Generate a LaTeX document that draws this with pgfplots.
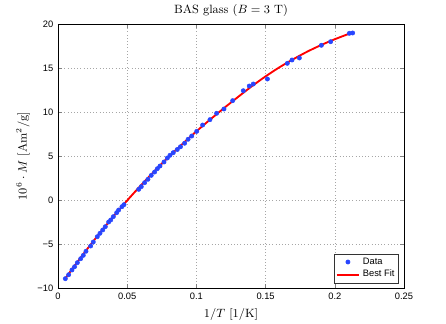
\documentclass[border=0pt]{standalone}
\usepackage{pgfplots}
\pgfplotsset{compat=1.18}
\usepackage{fontspec}
\newfontfamily\ticksf{Liberation Sans}
\definecolor{datablue}{RGB}{40,70,255}

\begin{document}
\begin{tikzpicture}
\useasboundingbox (-43.5pt,-27pt) rectangle (291pt,216pt);
\begin{axis}[
    at={(0,0)}, anchor=south west,
    scale only axis,
    width=259.5pt,
    height=198pt,
    xmin=0, xmax=0.25,
    ymin=-10, ymax=20,
    xtick={0,0.05,0.1,0.15,0.2,0.25},
    xticklabels={0,0.05,0.1,0.15,0.2,0.25},
    ytick={-10,-5,0,5,10,15,20},
    yticklabels={−10,−5,0,5,10,15,20},
    tick label style={font=\ticksf\fontsize{7}{8}\selectfont},
    tick align=inside,
    major tick length=3pt,
    grid=major,
    major grid style={dotted, gray!70},
    title={BAS glass ($B = 3$ T)},
    title style={font=\fontsize{9}{10}\selectfont, yshift=-4pt},
    xlabel={$1/T$ $[1/\mathrm{K}]$},
    ylabel={$10^6\cdot M$ $[\mathrm{Am}^2/\mathrm{g}]$},
    label style={font=\fontsize{9}{10}\selectfont},
    ylabel style={yshift=-1pt},
    legend style={font=\ticksf\fontsize{7}{8}\selectfont, draw=black!80,
      inner sep=1pt, row sep=-1pt, at={(0.985,0.018)}, anchor=south east},
    legend cell align=left,
]
\addplot[only marks, mark=*, mark size=1.6pt, color=datablue] coordinates {
(0.0053,-8.94) (0.0077,-8.49) (0.0101,-7.95) (0.0120,-7.58) (0.0140,-7.12)
(0.0164,-6.67) (0.0183,-6.29) (0.0202,-5.83) (0.0236,-5.23) (0.0255,-4.77)
(0.0284,-4.17) (0.0303,-3.79) (0.0323,-3.41) (0.0342,-3.03) (0.0366,-2.50)
(0.0381,-2.27) (0.0400,-1.89) (0.0424,-1.44) (0.0438,-1.14) (0.0462,-0.76)
(0.0477,-0.53)
(0.0583,1.21) (0.0602,1.52) (0.0626,1.97) (0.0650,2.35) (0.0674,2.80)
(0.0698,3.18) (0.0718,3.56) (0.0737,3.86) (0.0766,4.32) (0.0790,4.77)
(0.0809,5.08) (0.0833,5.38) (0.0862,5.74) (0.0885,6.05) (0.0915,6.45)
(0.0940,6.90) (0.0966,7.27) (0.1002,7.80) (0.1045,8.52) (0.1098,9.13)
(0.1146,9.85) (0.1199,10.34) (0.1262,11.29) (0.1339,12.42) (0.1382,12.95)
(0.1411,13.18) (0.1513,13.75) (0.1657,15.53) (0.1691,15.91) (0.1744,16.14)
(0.1903,17.58) (0.1970,17.99) (0.2105,18.94) (0.2129,18.98)
};
\addlegendentry{Data}
\addplot[smooth, color=red, line width=1.4pt] coordinates {
(0.005,-9.0) (0.01,-7.9) (0.02,-5.8) (0.03,-3.8) (0.04,-1.88) (0.05,-0.05)
(0.06,1.68) (0.07,3.33) (0.08,4.9) (0.09,6.38) (0.10,7.8) (0.11,9.15)
(0.12,10.45) (0.13,11.7) (0.14,12.92) (0.15,14.05) (0.16,15.08) (0.17,16.0)
(0.18,16.85) (0.19,17.6) (0.20,18.27) (0.213,19.05)
};
\addlegendentry{Best Fit}
\end{axis}
\end{tikzpicture}
\end{document}
